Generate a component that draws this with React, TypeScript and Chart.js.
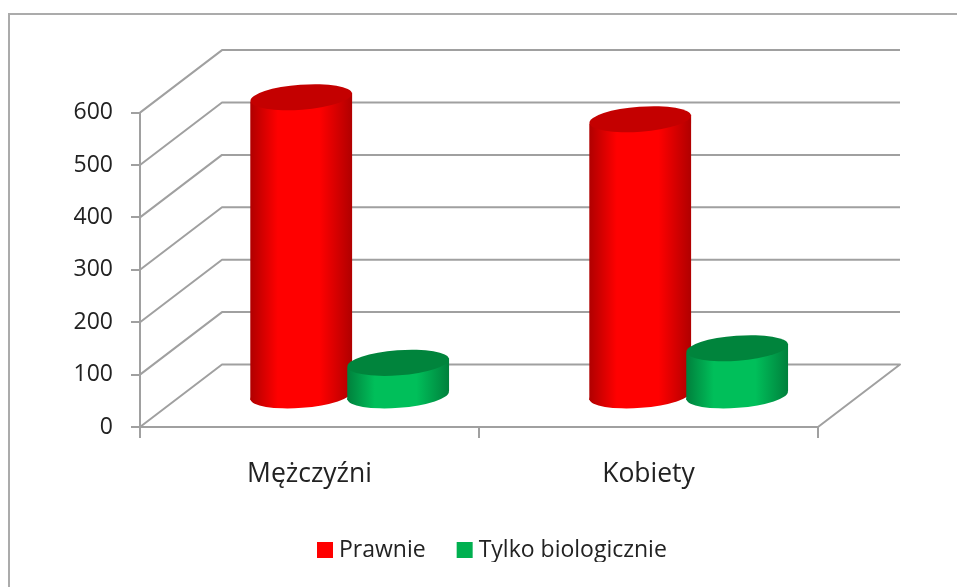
import React, { useEffect, useRef } from "react";
import { Chart, registerables } from "chart.js";

Chart.register(...registerables);

const categories = ["Mężczyźni", "Kobiety"];
const prawnie = [571, 529];
const tylkoBiologicznie = [64, 92];
const seriesNames = ["Prawnie", "Tylko biologicznie"];
const yTicks = [0, 100, 200, 300, 400, 500, 600];

const FONT = "'Open Sans', 'Noto Sans', sans-serif";
const GRID = "#a0a0a0";
const TEXT = "#222222";
// 3D projection of the depth axis (px)
const DEPTH_X = 82;
const DEPTH_Y = -62.5;

const looks = [
  { edge: "#b00000", mid: "#ff0000", top: "#c40000" },
  { edge: "#00803c", mid: "#00bf5a", top: "#00843c" },
];

const frame3d = {
  id: "frame3d",
  beforeDraw(chart: any) {
    const { ctx } = chart;
    ctx.save();
    ctx.strokeStyle = "#ababab";
    ctx.lineWidth = 2;
    ctx.strokeRect(9, 14, 1000, 1000);
    ctx.restore();
  },
  afterLayout(chart: any) {
    const l = chart.legend;
    const p = l.options.labels.padding;
    const size = l.options.labels.font.size;
    l.left = 322.5 - p;
    l.right = l.left + 500;
    l.top = 550 - size / 2 - p;
    l.bottom = l.top + 60;
  },
  beforeDatasetsDraw(chart: any) {
    const { ctx, scales } = chart;
    const y = scales.y;
    const left = chart.chartArea.left;
    const right = chart.chartArea.right;
    ctx.save();
    ctx.strokeStyle = GRID;
    ctx.lineWidth = 2;
    ctx.lineJoin = "round";
    yTicks.forEach((v) => {
      const py = y.getPixelForValue(v);
      ctx.beginPath();
      ctx.moveTo(left, py);
      ctx.lineTo(left + DEPTH_X, py + DEPTH_Y);
      ctx.lineTo(right + DEPTH_X, py + DEPTH_Y);
      if (v === 0) ctx.lineTo(right, py);
      ctx.stroke();
    });
    ctx.restore();
  },
  beforeDatasetDraw() {
    return false;
  },
  afterDatasetsDraw(chart: any) {
    const { ctx } = chart;
    categories.forEach((_, c) => {
      chart.data.datasets.forEach((_d: any, i: number) => {
        const el = chart.getDatasetMeta(i).data[c];
        const a = el.width / 2;
        const b = 12.5;
        const s = 4.5;
        const rot = -0.075;
        const cx = el.x + DEPTH_X * 0.49;
        const top = el.y + DEPTH_Y * 0.49;
        const base = el.base + DEPTH_Y * 0.49;
        const look = looks[i];
        const g = ctx.createLinearGradient(cx - a, 0, cx + a, 0);
        g.addColorStop(0, look.edge);
        g.addColorStop(0.27, look.mid);
        g.addColorStop(0.68, look.mid);
        g.addColorStop(1, look.edge);
        ctx.save();
        ctx.fillStyle = g;
        ctx.beginPath();
        ctx.ellipse(cx, base, a, b, rot, 0, Math.PI * 2);
        ctx.fill();
        ctx.beginPath();
        ctx.moveTo(cx - a, top + s);
        ctx.lineTo(cx + a, top - s);
        ctx.lineTo(cx + a, base - s);
        ctx.lineTo(cx - a, base + s);
        ctx.closePath();
        ctx.fill();
        ctx.fillStyle = look.top;
        ctx.beginPath();
        ctx.ellipse(cx, top, a, b, rot, 0, Math.PI * 2);
        ctx.fill();
        ctx.restore();
      });
    });
  },
};

export default function App() {
  const ref = useRef<HTMLCanvasElement | null>(null);
  useEffect(() => {
    const chart = new Chart(ref.current as HTMLCanvasElement, {
      type: "bar",
      data: {
        labels: categories,
        datasets: [
          {
            label: seriesNames[0],
            data: prawnie,
            backgroundColor: "#ff0000",
            borderColor: "#ff0000",
            borderWidth: 11,
            categoryPercentage: 0.572,
            barPercentage: 1.05,
          },
          {
            label: seriesNames[1],
            data: tylkoBiologicznie,
            backgroundColor: "#00b050",
            borderColor: "#00b050",
            borderWidth: 11,
            categoryPercentage: 0.572,
            barPercentage: 1.05,
          },
        ],
      },
      options: {
        responsive: false,
        animation: false,
        layout: { padding: { top: 112.6, right: 139, bottom: 0, left: 0 } },
        plugins: {
          title: { display: false },
          tooltip: { enabled: false },
          legend: {
            position: "bottom",
            align: "start",
            labels: {
              boxWidth: 5,
              boxHeight: 5,
              padding: 36.5,
              color: TEXT,
              font: { family: FONT, size: 23 },
            },
          },
        },
        scales: {
          x: {
            afterFit(scale: any) {
              scale.height = 160 - scale.chart.legend.height;
            },
            border: { color: GRID, width: 2 },
            grid: {
              drawOnChartArea: false,
              color: GRID,
              lineWidth: 2,
              tickLength: 11,
              tickWidth: 2,
            },
            ticks: { color: TEXT, padding: 21, font: { family: FONT, size: 26.5 } },
          },
          y: {
            min: 0,
            max: 600,
            afterFit(scale: any) {
              scale.width = 140;
            },
            afterBuildTicks(scale: any) {
              scale.ticks = yTicks.map((value) => ({ value }));
            },
            border: { color: GRID, width: 2 },
            grid: {
              drawOnChartArea: false,
              color: GRID,
              lineWidth: 2,
              tickLength: 9,
              tickWidth: 2,
            },
            ticks: { color: TEXT, padding: 18, font: { family: FONT, size: 23 } },
          },
        },
      },
      plugins: [frame3d],
    } as any);
    return () => chart.destroy();
  }, []);
  return (
    <div style={{ position: "fixed", left: 0, top: 0, width: 957, height: 587, background: "#fff" }}>
      <canvas
        ref={ref}
        width={957}
        height={587}
        style={{ display: "block", width: 957, height: 587, filter: "blur(0.7px)" }}
      />
    </div>
  );
}
